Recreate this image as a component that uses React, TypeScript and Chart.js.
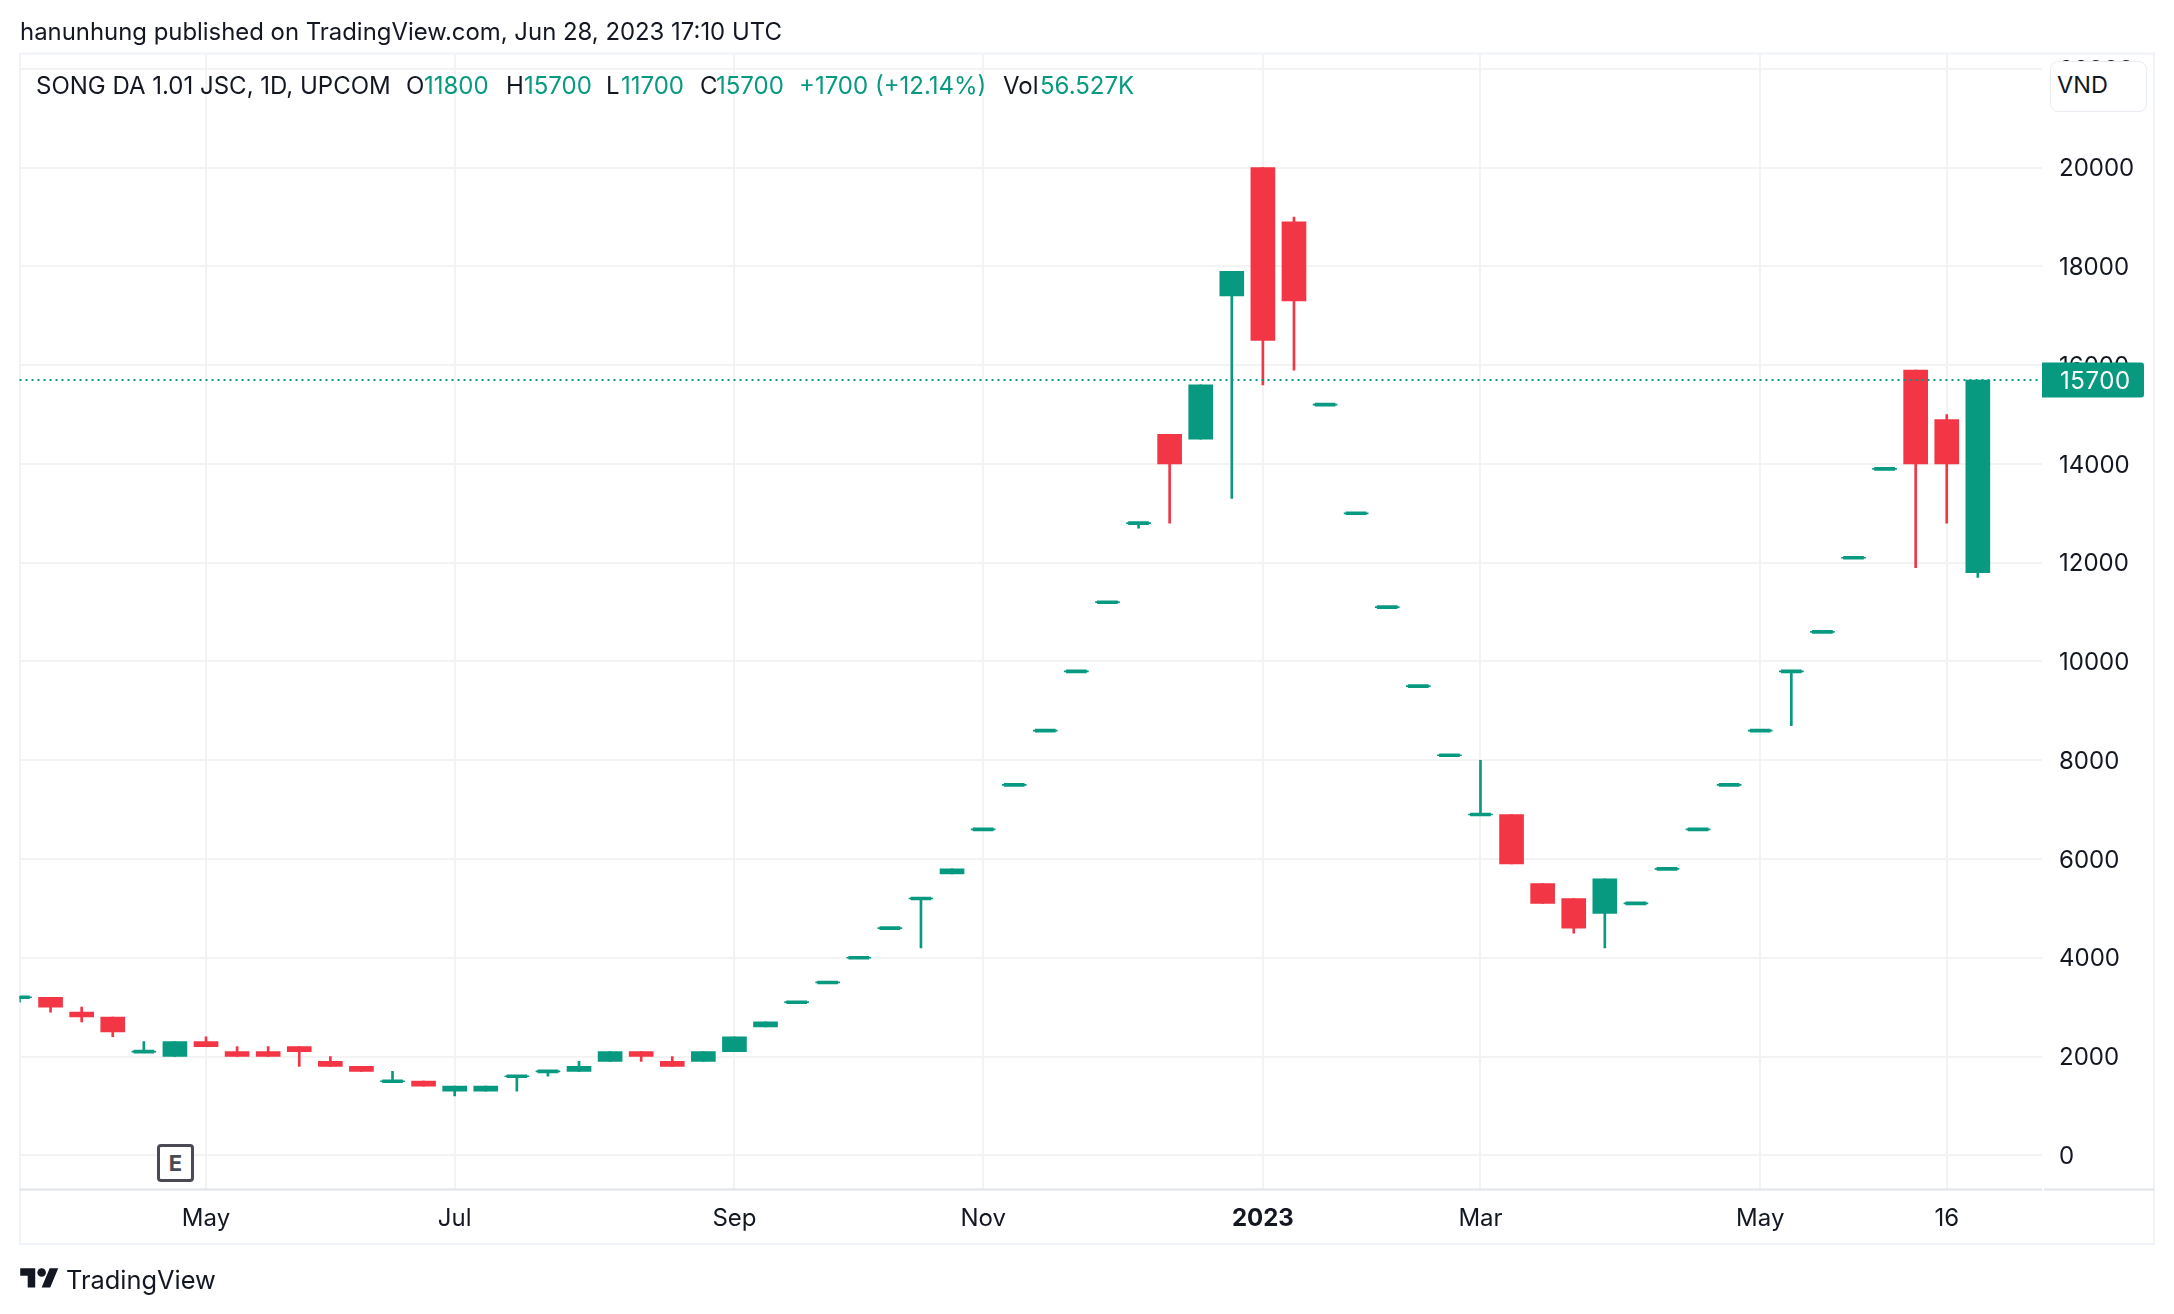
import React, { useEffect, useRef } from "react";
import { Chart, registerables } from "chart.js";

Chart.register(...registerables);

const opens = [3200,3200,2900,2800,2100,2000,2300,2100,2100,2200,1900,1800,1500,1500,1300,1300,1600,1700,1700,1900,2100,1900,1900,2100,2600,3100,3500,4000,4600,5200,5700,6600,7500,8600,9800,11200,12800,14600,14500,17400,20000,18900,15200,13000,11100,9500,8100,6900,6900,5500,5200,4900,5100,5800,6600,7500,8600,9800,10600,12100,13900,15900,14900,11800];
const highs = [3200,3200,3000,2800,2300,2300,2400,2200,2200,2200,2000,1800,1700,1500,1400,1400,1600,1700,1900,2100,2100,2000,2100,2400,2700,3100,3500,4000,4600,5200,5800,6600,7500,8600,9800,11200,12800,14600,15600,17900,20000,19000,15200,13000,11100,9500,8100,8000,6900,5500,5200,5600,5100,5800,6600,7500,8600,9800,10600,12100,13900,15900,15000,15700];
const lows = [3100,2900,2700,2400,2100,2000,2200,2000,2000,1800,1800,1700,1500,1400,1200,1300,1300,1600,1700,1900,1900,1800,1900,2100,2600,3100,3500,4000,4600,4200,5700,6600,7500,8600,9800,11200,12700,12800,14500,13300,15600,15900,15200,13000,11100,9500,8100,6900,5900,5100,4500,4200,5100,5800,6600,7500,8600,8700,10600,12100,13900,11900,12800,11700];
const closes = [3200,3000,2800,2500,2100,2300,2200,2000,2000,2100,1800,1700,1500,1400,1400,1400,1600,1700,1800,2100,2000,1800,2100,2400,2700,3100,3500,4000,4600,5200,5800,6600,7500,8600,9800,11200,12800,14000,15600,17900,16500,17300,15200,13000,11100,9500,8100,6900,5900,5100,4600,5600,5100,5800,6600,7500,8600,9800,10600,12100,13900,14000,14000,15700];

const futureSlots = 2;
const xTickIndexes = [6, 14, 23, 31, 40, 47, 56, 62];
const xTickLabels = ["May", "Jul", "Sep", "Nov", "2023", "Mar", "May", "16"];
const yTicks = [0, 2000, 4000, 6000, 8000, 10000, 12000, 14000, 16000, 18000, 20000, 22000];
const yMin = -693;
const yMax = 22291;
const lastClose = closes[closes.length - 1];

const GREEN = "#089981";
const RED = "#F23645";
const GRID = "#F3F3F3";
const FRAME = "#F0F3FA";
const FONT = "Inter, 'Noto Sans', sans-serif";
const INK = "#131722";

const categories = opens.map((_, i) => String(i)).concat(Array.from({ length: futureSlots }, (_, i) => "f" + i));
const isDash = (i: number) => opens[i] === closes[i];
const colorOf = (i: number) => (closes[i] >= opens[i] ? GREEN : RED);

const framePlugin = {
  id: "frame",
  beforeDraw(chart: any) {
    const c = chart.ctx;
    c.save();
    c.strokeStyle = FRAME;
    c.lineWidth = 2;
    c.strokeRect(20, 53.5, 2134, 1190.5);
    c.restore();
  },
  afterDraw(chart: any) {
    const c = chart.ctx;
    const { right, bottom } = chart.chartArea;
    const edge = right + 2;
    c.save();
    c.strokeStyle = "#E0E3EB";
    c.lineWidth = 2;
    c.beginPath();
    c.moveTo(20, bottom);
    c.lineTo(edge, bottom);
    c.moveTo(edge + 2, bottom);
    c.lineTo(2154, bottom);
    c.stroke();
    const y = chart.scales.y.getPixelForValue(lastClose);
    c.fillStyle = GREEN;
    c.beginPath();
    c.roundRect(edge, y - 17.5, 102, 35, [0, 3, 3, 0]);
    c.fill();
    c.fillStyle = "#FFFFFF";
    c.font = "24px " + FONT;
    c.letterSpacing = "0.6px";
    c.textBaseline = "middle";
    c.textAlign = "left";
    c.fillText(String(lastClose), edge + 18, y + 1.5);
    c.restore();
  },
};

function App() {
  const ref = useRef<HTMLCanvasElement | null>(null);
  useEffect(() => {
    const chart = new Chart(ref.current as HTMLCanvasElement, {
      type: "bar",
      plugins: [framePlugin],
      data: {
        labels: categories,
        datasets: [
          {
            type: "line",
            label: "Last",
            data: categories.map(() => lastClose),
            borderColor: GREEN,
            borderWidth: 2,
            borderDash: [2, 4],
            pointRadius: 0,
            order: 0,
          },
          {
            label: "Body",
            data: opens.map((o, i) => (isDash(i) ? null : [Math.min(o, closes[i]), Math.max(o, closes[i])])),
            backgroundColor: opens.map((_, i) => colorOf(i)),
            barThickness: 24,
            grouped: false,
            order: 1,
          },
          {
            label: "DashCore",
            data: opens.map((o, i) => (isDash(i) ? [o - 30, o + 30] : null)),
            backgroundColor: GREEN,
            barThickness: 20,
            grouped: false,
            order: 2,
          },
          {
            label: "DashLine",
            data: opens.map((o, i) => (isDash(i) ? [o - 10, o + 10] : null)),
            backgroundColor: GREEN,
            barThickness: 24,
            grouped: false,
            order: 3,
          },
          {
            label: "Wick",
            data: opens.map((_, i) => [lows[i], highs[i]]),
            backgroundColor: opens.map((_, i) => colorOf(i)),
            barThickness: 2,
            grouped: false,
            order: 4,
          },
        ] as any,
      },
      options: {
        animation: false,
        responsive: false,
        layout: { autoPadding: false, padding: { left: 19.5, top: 54.5, right: 0, bottom: 0 } },
        plugins: { legend: { display: false }, tooltip: { enabled: false } },
        scales: {
          x: {
            type: "category",
            offset: false,
            grid: { color: GRID, lineWidth: 2, offset: false, drawTicks: false },
            border: { display: false },
            afterBuildTicks(s: any) {
              s.ticks = xTickIndexes.map((v) => ({ value: v }));
            },
            afterFit(s: any) {
              s.height = 124.5;
            },
            ticks: {
              autoSkip: false,
              maxRotation: 0,
              color: INK,
              padding: 15,
              callback: (_v: any, i: number) => xTickLabels[i],
              font: (ctx: any) => ({
                family: FONT,
                size: 24,
                weight: xTickLabels[ctx.index] === "2023" ? "bold" : "normal",
              }),
            },
          },
          y: {
            type: "linear",
            position: "right",
            min: yMin,
            max: yMax,
            grid: { color: GRID, lineWidth: 2, drawTicks: true, tickLength: 2, tickColor: GRID },
            border: { display: false },
            afterBuildTicks(s: any) {
              s.ticks = yTicks.map((v) => ({ value: v }));
              if (!s._labelNudged) {
                const orig = s._computeLabelItems.bind(s);
                s._computeLabelItems = (area: any) =>
                  orig(area).map((it: any) => ({
                    ...it,
                    options: { ...it.options, translation: [it.options.translation[0], it.options.translation[1] + 1.5] },
                  }));
                s._labelNudged = true;
              }
            },
            afterFit(s: any) {
              s.width = 134;
            },
            ticks: {
              color: INK,
              padding: 17,
              callback: (v: any) => String(v),
              font: { family: FONT, size: 24 },
            },
          },
        },
      } as any,
    });
    return () => chart.destroy();
  }, []);

  const abs = (l: number, t: number): React.CSSProperties => ({
    position: "absolute",
    left: l,
    top: t,
    lineHeight: "28px",
    whiteSpace: "nowrap",
  });
  const legend: [string, number, string][] = [
    ["SONG DA 1.01 JSC, 1D, UPCOM", 36, INK],
    ["O", 406, INK],
    ["11800", 424, GREEN],
    ["H", 506, INK],
    ["15700", 524, GREEN],
    ["L", 606, INK],
    ["11700", 621, GREEN],
    ["C", 700, INK],
    ["15700", 716, GREEN],
    ["+1700 (+12.14%)", 799, GREEN],
    ["Vol", 1003, INK],
    ["56.527K", 1040, GREEN],
  ];

  return (
    <div
      style={{
        position: "absolute",
        left: 0,
        top: 0,
        width: 2174,
        height: 1314,
        background: "#fff",
        overflow: "hidden",
        fontFamily: FONT,
        fontSize: 24,
        color: INK,
      }}
    >
      <canvas ref={ref} width={2174} height={1314} style={{ position: "absolute", left: 0, top: 0 }} />
      <div style={{ ...abs(20, 18), fontSize: 23.9 }}>hanunhung published on TradingView.com, Jun 28, 2023 17:10 UTC</div>
      {legend.map(([t, x, col], i) => (
        <div key={i} style={{ ...abs(x, 72), color: col }}>
          {t}
        </div>
      ))}
      <div
        style={{
          position: "absolute",
          left: 2050,
          top: 61,
          width: 97,
          height: 51,
          boxSizing: "border-box",
          background: "#fff",
          border: "1px solid #E9ECF3",
          borderRadius: 8,
          paddingLeft: 6,
          fontSize: 23.5,
          lineHeight: "45px",
        }}
      >
        VND
      </div>
      <div
        style={{
          position: "absolute",
          left: 157,
          top: 1144,
          width: 37,
          height: 38,
          boxSizing: "border-box",
          border: "3px solid #4A4A55",
          borderRadius: 4,
          background: "#fff",
          color: "#4A4A55",
          fontWeight: 700,
          fontSize: 22,
          lineHeight: "32px",
          textAlign: "center",
        }}
      >
        E
      </div>
      <svg style={{ position: "absolute", left: 20, top: 1264 }} width={39} height={30} viewBox="0 0 36 28">
        <path d="M14 22H7V11H0V4h14v18zM28 22h-8l7.5-18h8L28 22z" fill={INK} />
        <circle cx="20" cy="8" r="4" fill={INK} />
      </svg>
      <div style={{ ...abs(66, 1266), fontSize: 25.4 }}>TradingView</div>
    </div>
  );
}

export default App;
